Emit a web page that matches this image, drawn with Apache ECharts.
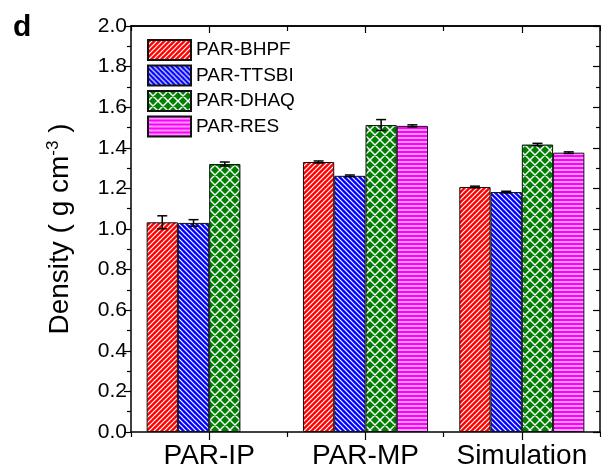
<!DOCTYPE html>
<html><head><meta charset="utf-8">
<script src="https://cdn.jsdelivr.net/npm/echarts@6/dist/echarts.min.js"></script>
<style>html,body{margin:0;padding:0;background:#fff}#c{width:601px;height:471px}</style>
</head><body><div id="c"></div>
<script>
var categories = ['PAR-IP', 'PAR-MP', 'Simulation'];
var seriesNames = ['PAR-BHPF', 'PAR-TTSBI', 'PAR-DHAQ', 'PAR-RES'];
var bhpf = [1.033, 1.330, 1.207];
var ttsbi = [1.030, 1.262, 1.182];
var dhaq = [1.320, 1.512, 1.416];
var res = [null, 1.508, 1.376];
var bhpfErr = [0.032, 0.005, 0.004];
var ttsbiErr = [0.016, 0.004, 0.004];
var dhaqErr = [0.010, 0.027, 0.006];
var resErr = [null, 0.005, 0.004];
var yTicks = [0, 2, 0.2];

function makePattern(kind, bg) {
  var s = kind === 'grid' ? 10 : (kind === 'h' ? 4 : 5);
  var c = document.createElement('canvas');
  c.width = s; c.height = s;
  var g = c.getContext('2d');
  g.fillStyle = bg; g.fillRect(0, 0, s, s);
  g.strokeStyle = '#ffffff';
  g.lineWidth = kind === 'grid' ? 1.4 : 1.2;
  g.beginPath();
  if (kind === 'fwd' || kind === 'grid') {
    g.moveTo(-1, s + 1); g.lineTo(s + 1, -1);
    g.moveTo(-1, 1); g.lineTo(1, -1);
    g.moveTo(s - 1, s + 1); g.lineTo(s + 1, s - 1);
  }
  if (kind === 'back' || kind === 'grid') {
    g.moveTo(-1, -1); g.lineTo(s + 1, s + 1);
    g.moveTo(s - 1, -1); g.lineTo(s + 1, 1);
    g.moveTo(-1, s - 1); g.lineTo(1, s + 1);
  }
  if (kind === 'h') {
    g.moveTo(0, 2); g.lineTo(s, 2);
  }
  g.stroke();
  return { image: c, repeat: 'repeat' };
}

var patterns = [
  makePattern('fwd', '#ff0000'),
  makePattern('back', '#0000ff'),
  makePattern('grid', '#008000'),
  makePattern('h', '#ff00ff')
];
var values = [bhpf, ttsbi, dhaq, res];
var errs = [bhpfErr, ttsbiErr, dhaqErr, resErr];

var series = [];
values.forEach(function (v, i) {
  series.push({
    name: seriesNames[i], type: 'bar', data: v,
    barGap: '0%', barCategoryGap: '20%',
    itemStyle: { color: patterns[i], borderColor: '#111', borderWidth: 1 },
    emphasis: { disabled: true }
  });
});
values.forEach(function (v, i) {
  var d = [];
  v.forEach(function (val, k) { if (val != null) d.push([k, val, errs[i][k]]); });
  series.push({
    type: 'custom', data: d, z: 10, silent: true,
    renderItem: function (params, api) {
      var k = api.value(0), val = api.value(1), e = api.value(2);
      var band = api.size([1, 0])[0];
      var bw = band * 0.8 / 4;
      var c = api.coord([k, val]);
      var x = c[0] + (i - 1.5) * bw;
      var yt = api.coord([k, val + e])[1];
      var yb = api.coord([k, val - e])[1];
      var st = { stroke: '#000', lineWidth: 1.5 };
      return { type: 'group', children: [
        { type: 'line', shape: { x1: x, y1: yt, x2: x, y2: yb }, style: st },
        { type: 'line', shape: { x1: x - 5, y1: yt, x2: x + 5, y2: yt }, style: st },
        { type: 'line', shape: { x1: x - 5, y1: yb, x2: x + 5, y2: yb }, style: st }
      ]};
    }
  });
});

var font = 'Liberation Sans, Arial, sans-serif';
var axLine = { show: true, lineStyle: { color: '#000', width: 1.5 } };
function xAx(pos, align, len, inside, label) {
  return {
    type: 'category', data: categories, position: pos,
    axisLine: label ? axLine : { show: pos === 'top', lineStyle: { color: '#000', width: 1.5 } },
    axisTick: { show: true, alignWithLabel: align, length: len, inside: inside, lineStyle: { color: '#000', width: 1.2 } },
    axisLabel: label ? { show: true, interval: 0, color: '#000', fontSize: 28, fontFamily: font, margin: 10 } : { show: false },
    splitLine: { show: false }
  };
}
function yAx(pos, inside, label) {
  return {
    type: 'value', min: yTicks[0], max: yTicks[1], interval: yTicks[2], position: pos,
    axisLine: axLine,
    axisTick: { show: true, length: 7, inside: inside, lineStyle: { color: '#000', width: 1.2 } },
    minorTick: { show: true, splitNumber: 2, length: 4, lineStyle: { color: '#000', width: 1.2 } },
    axisLabel: label ? { show: true, color: '#000', fontSize: 21, fontFamily: font, margin: 4,
      formatter: function (v) { return v.toFixed(1); } } : { show: false },
    splitLine: { show: false },
    name: label ? 'Density ( g cm{sup|-3} )' : '',
    nameLocation: 'middle', nameGap: 55,
    nameTextStyle: { color: '#000', fontSize: 28, fontFamily: font,
      rich: { sup: { fontSize: 17, fontFamily: font, color: '#000', verticalAlign: 'top', padding: [0, 0, 14, 0] } } }
  };
}

var chart = echarts.init(document.getElementById('c'), null, { renderer: 'canvas' });
chart.setOption({
  animation: false,
  backgroundColor: '#fff',
  grid: { left: 131, right: 1, top: 26, bottom: 39 },
  title: { text: 'd', left: 8, top: 8, textStyle: { fontSize: 30, fontWeight: 'bold', fontFamily: font, color: '#000' } },
  legend: {
    data: seriesNames, left: 147, top: 39, orient: 'vertical', padding: 0,
    itemWidth: 43, itemHeight: 20, itemGap: 3.5, icon: 'rect',
    textStyle: { fontSize: 19, fontFamily: font, color: '#000', padding: [0, 0, 0, 0] },
    selectedMode: false
  },
  xAxis: [xAx('bottom', false, 5, false, true), xAx('bottom', true, 8, false, false),
          xAx('top', false, 5, true, false), xAx('top', true, 7, true, false)],
  yAxis: [yAx('left', false, true), yAx('right', true, false)],
  series: series
});
</script></body></html>
